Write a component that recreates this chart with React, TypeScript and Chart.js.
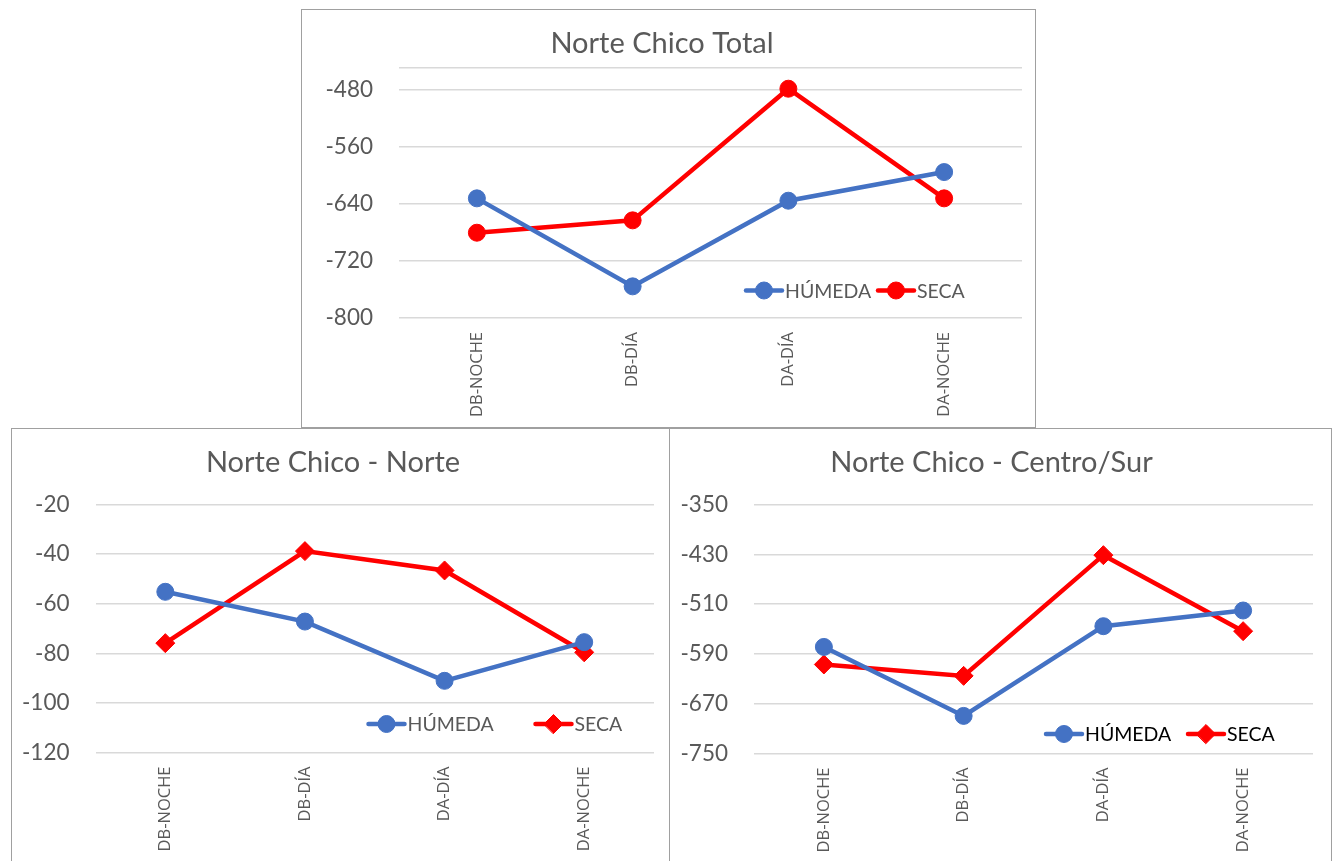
import { useEffect, useRef } from 'react';
import { Chart, registerables } from 'chart.js';

Chart.register(...registerables);

// Shared categories for the three panels
const categories = ['DB-NOCHE', 'DB-DÍA', 'DA-DÍA', 'DA-NOCHE'];
const seriesNames = ['HÚMEDA', 'SECA'];

// Norte Chico Total
const totalHumeda = [-632.5, -755.7, -635.8, -595.7];
const totalSeca = [-680.6, -663.3, -479, -632.5];
const totalTicks = [-800, -720, -640, -560, -480];
const totalMax = -450;

// Norte Chico - Norte
const norteHumeda = [-55.2, -67.2, -91.1, -75.5];
const norteSeca = [-75.9, -38.8, -46.6, -79.6];
const norteTicks = [-120, -100, -80, -60, -40, -20];

// Norte Chico - Centro/Sur
const centroHumeda = [-578.8, -689.6, -545.5, -520.3];
const centroSeca = [-607, -625.3, -431.4, -553.5];
const centroTicks = [-750, -670, -590, -510, -430, -350];

const BLUE = '#4472C4';
const RED = '#FF0000';
const GREY_TEXT = '#595959';
const GRID = '#d9d9d9';

type Box = { left: number; top: number; width: number; height: number };
type Area = { left: number; right: number; top: number; bottom: number };
type LegendSpec = { y: number; starts: number[]; color: string };

type PanelProps = {
  title: string;
  humeda: number[];
  seca: number[];
  ticks: number[];
  max?: number;
  secaStyle: 'circle' | 'rectRot';
  box: Box;
  area: Area;
  legend: LegendSpec;
};

// Draws the legend inside the plot: a short line with the series marker, then the name
const inlineLegend = {
  id: 'inlineLegend',
  afterDraw(chart: any, _args: any, opts: any) {
    const { ctx } = chart;
    const lineLen = opts.lineLength ?? 36;
    chart.data.datasets.forEach((ds: any, i: number) => {
      const x0 = opts.starts[i];
      const y = opts.y;
      ctx.save();
      ctx.strokeStyle = ds.borderColor;
      ctx.lineWidth = ds.borderWidth;
      ctx.lineCap = 'round';
      ctx.beginPath();
      ctx.moveTo(x0, y);
      ctx.lineTo(x0 + lineLen, y);
      ctx.stroke();

      const cx = x0 + lineLen / 2;
      const r = ds.pointRadius;
      ctx.fillStyle = ds.pointBackgroundColor;
      ctx.lineWidth = 1;
      ctx.beginPath();
      if (ds.pointStyle === 'rectRot') {
        ctx.moveTo(cx - r, y);
        ctx.lineTo(cx, y - r);
        ctx.lineTo(cx + r, y);
        ctx.lineTo(cx, y + r);
        ctx.closePath();
      } else {
        ctx.arc(cx, y, r, 0, Math.PI * 2);
      }
      ctx.fill();
      ctx.stroke();

      ctx.fillStyle = opts.color;
      ctx.font = '19.5px Lato';
      ctx.textBaseline = 'middle';
      ctx.textAlign = 'left';
      ctx.fillText(ds.label, x0 + lineLen + 3, y + 1);
      ctx.restore();
    });
  },
};

function Panel(props: PanelProps) {
  const ref = useRef<HTMLCanvasElement | null>(null);
  const cw = props.box.width - 2;
  const ch = props.box.height - 2;

  useEffect(() => {
    if (!ref.current) return;
    const { area, ticks, max } = props;
    const tickValues = max !== undefined ? [...ticks, max] : [...ticks];
    const titleSize = 29;
    const titleLine = titleSize * 1.2;
    const titleTop = 16.5;

    const chart = new Chart(ref.current, {
      type: 'line',
      data: {
        labels: categories,
        datasets: [
          {
            label: seriesNames[0],
            data: props.humeda,
            borderColor: BLUE,
            backgroundColor: BLUE,
            pointBackgroundColor: BLUE,
            pointBorderColor: BLUE,
            pointStyle: 'circle',
            pointRadius: 8.5,
            pointBorderWidth: 1,
            borderWidth: 4.5,
            tension: 0,
          },
          {
            label: seriesNames[1],
            data: props.seca,
            borderColor: RED,
            backgroundColor: RED,
            pointBackgroundColor: RED,
            pointBorderColor: RED,
            pointStyle: props.secaStyle,
            pointRadius: props.secaStyle === 'rectRot' ? 9.5 : 8.5,
            pointBorderWidth: 1,
            borderWidth: 4.5,
            tension: 0,
          },
        ],
      },
      options: {
        responsive: false,
        animation: false,
        layout: { padding: { left: 0, right: cw - area.right, top: 0, bottom: 0 } },
        plugins: {
          legend: { display: false },
          tooltip: { enabled: false },
          title: {
            display: true,
            text: props.title,
            color: GREY_TEXT,
            font: { family: 'Lato', size: titleSize, weight: 'normal', lineHeight: 1.2 },
            padding: { top: titleTop, bottom: area.top - titleTop - titleLine },
          },
          inlineLegend: props.legend,
        } as any,
        scales: {
          x: {
            offset: true,
            grid: { display: false, drawTicks: false },
            border: { display: false },
            ticks: {
              autoSkip: false,
              minRotation: 90,
              maxRotation: 90,
              padding: 14,
              color: GREY_TEXT,
              font: { family: 'Open Sans', size: 16.5 },
            },
            afterFit: (axis: any) => {
              axis.height = ch - area.bottom;
            },
          },
          y: {
            min: ticks[0],
            max: max !== undefined ? max : ticks[ticks.length - 1],
            afterBuildTicks: (axis: any) => {
              axis.ticks = tickValues.map((v) => ({ value: v }));
            },
            afterFit: (axis: any) => {
              axis.width = area.left;
            },
            grid: { color: GRID, lineWidth: 1.5, drawTicks: false },
            border: { display: false },
            ticks: {
              padding: 26,
              color: GREY_TEXT,
              font: { family: 'Lato', size: 22.5 },
              callback: (v: any) => (ticks.includes(Number(v)) ? String(v) : ''),
            },
          },
        },
      },
      plugins: [inlineLegend],
    });
    return () => chart.destroy();
  }, []);

  return (
    <div
      style={{
        position: 'absolute',
        left: props.box.left,
        top: props.box.top,
        width: props.box.width,
        height: props.box.height,
        border: '1px solid #a0a0a0',
        boxSizing: 'border-box',
        background: '#ffffff',
      }}
    >
      <canvas ref={ref} width={cw} height={ch} style={{ display: 'block', width: cw, height: ch }} />
    </div>
  );
}

export default function App() {
  return (
    <div
      style={{
        position: 'fixed',
        left: 0,
        top: 0,
        width: 1337,
        height: 861,
        overflow: 'hidden',
        background: '#ffffff',
      }}
    >
      <Panel
        title="Norte Chico Total"
        humeda={totalHumeda}
        seca={totalSeca}
        ticks={totalTicks}
        max={totalMax}
        secaStyle="circle"
        box={{ left: 301, top: 9, width: 735, height: 419 }}
        area={{ left: 97, right: 720, top: 58, bottom: 308 }}
        legend={{ y: 280.5, starts: [444, 576], color: GREY_TEXT }}
      />
      <Panel
        title="Norte Chico - Norte"
        humeda={norteHumeda}
        seca={norteSeca}
        ticks={norteTicks}
        secaStyle="rectRot"
        box={{ left: 11, top: 428, width: 659, height: 445 }}
        area={{ left: 83.5, right: 642, top: 75.5, bottom: 323.5 }}
        legend={{ y: 295, starts: [356.5, 523.5], color: GREY_TEXT }}
      />
      <Panel
        title="Norte Chico - Centro/Sur"
        humeda={centroHumeda}
        seca={centroSeca}
        ticks={centroTicks}
        secaStyle="rectRot"
        box={{ left: 669, top: 428, width: 663, height: 445 }}
        area={{ left: 84, right: 643, top: 75.5, bottom: 324.5 }}
        legend={{ y: 305, starts: [376, 518], color: '#000000' }}
      />
    </div>
  );
}
